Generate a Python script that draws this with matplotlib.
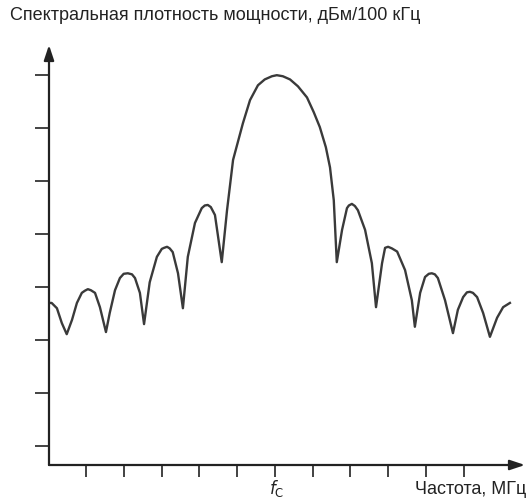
import matplotlib
matplotlib.use("Agg")
import matplotlib.pyplot as plt

plt.rcParams['font.family'] = ['Liberation Sans', 'DejaVu Sans']

# offset from carrier, in tick steps (fc = 0)
freq = [-5.99, -5.92, -5.78, -5.65, -5.52, -5.38, -5.25, -5.12, -5.04, -4.96,
        -4.88, -4.77, -4.64, -4.48, -4.38, -4.24, -4.11, -4.01, -3.90, -3.79,
        -3.71, -3.58, -3.47, -3.32, -3.13, -3.00, -2.94, -2.86, -2.79, -2.71,
        -2.57, -2.44, -2.31, -2.12, -1.94, -1.86, -1.78, -1.70, -1.59, -1.41,
        -1.27, -1.11, -0.85, -0.66, -0.45, -0.27, -0.08, 0.05, 0.21, 0.40,
        0.61, 0.85, 1.03, 1.19, 1.35, 1.46, 1.56, 1.64, 1.78, 1.91,
        1.96, 2.04, 2.12, 2.20, 2.39, 2.57, 2.68, 2.84, 2.92, 3.00,
        3.10, 3.24, 3.45, 3.63, 3.71, 3.85, 3.98, 4.08, 4.16, 4.24,
        4.32, 4.51, 4.72, 4.85, 4.99, 5.09, 5.17, 5.25, 5.36, 5.52,
        5.70, 5.89, 6.05, 6.23]
# power spectral density, dB relative to peak
psd = [-43.0, -43.0, -44.0, -46.8, -48.9, -46.2, -43.0, -41.1, -40.7, -40.4,
       -40.6, -41.1, -43.8, -48.5, -44.9, -40.6, -38.3, -37.5, -37.4, -37.6,
       -38.3, -41.1, -47.0, -39.1, -34.3, -32.8, -32.6, -32.4, -32.7, -33.4,
       -37.4, -44.0, -34.3, -27.9, -25.1, -24.6, -24.5, -24.9, -26.4, -35.3,
       -25.5, -16.0, -9.1, -4.7, -1.9, -0.8, -0.2, 0.0, -0.2, -0.8,
       -2.1, -4.2, -7.0, -9.8, -13.6, -17.4, -23.6, -35.3, -29.2, -25.1,
       -24.6, -24.3, -24.7, -25.5, -29.2, -35.5, -43.8, -35.5, -32.6, -32.4,
       -32.7, -33.3, -36.8, -42.5, -47.5, -41.1, -38.1, -37.5, -37.4, -37.6,
       -38.3, -42.5, -48.7, -44.3, -41.9, -41.0, -40.9, -41.1, -41.9, -44.9,
       -49.4, -45.8, -43.8, -43.0]

x_ticks = [-5, -4, -3, -2, -1, 0, 1, 2, 3, 4, 5]
y_ticks = [-70, -60, -50, -40, -30, -20, -10, 0]

W, H = 529, 500
fig = plt.figure(figsize=(W / 100, H / 100), dpi=100)
ax = fig.add_axes([49 / W, 35 / H, (525 - 49) / W, (465 - 45) / H])
ax.set_xlim(-5.99, 6.63)
ax.set_ylim(-73.6, 5.7)

ax.plot(freq, psd, color="#3a3a3a", linewidth=1.7, solid_joinstyle="round")

# оси со стрелками
for s in ["top", "right", "left", "bottom"]:
    ax.spines[s].set_visible(False)
arrow = dict(arrowstyle="-|>,head_length=0.9,head_width=0.3", color="#222222",
             lw=1.6, shrinkA=0, shrinkB=0)
ax.annotate("", xy=(0, 1), xytext=(0, 0), xycoords="axes fraction", arrowprops=arrow)
ax.annotate("", xy=(1, 0), xytext=(0, 0), xycoords="axes fraction", arrowprops=arrow)

ax.set_xticks(x_ticks)
ax.set_yticks(y_ticks)
ax.set_xticklabels([])
ax.set_yticklabels([])
ax.tick_params(axis="x", direction="out", length=8.5, width=1.2, color="#222222")
ax.tick_params(axis="y", direction="out", length=10, width=1.2, color="#222222")

fig.text(10 / W, 1 - 16 / H, "Спектральная плотность мощности, дБм/100 кГц",
         fontsize=13, color="#222222", va="center", ha="left")
fig.text(526 / W, 1 - 490 / H, "Частота, МГц", fontsize=13, color="#222222",
         va="center", ha="right")
fig.text(277 / W, 1 / H, r"$f_{\mathrm{C}}$", fontsize=12, color="#222222",
         ha="center", va="bottom")

fig.savefig("out.png", dpi=100)
